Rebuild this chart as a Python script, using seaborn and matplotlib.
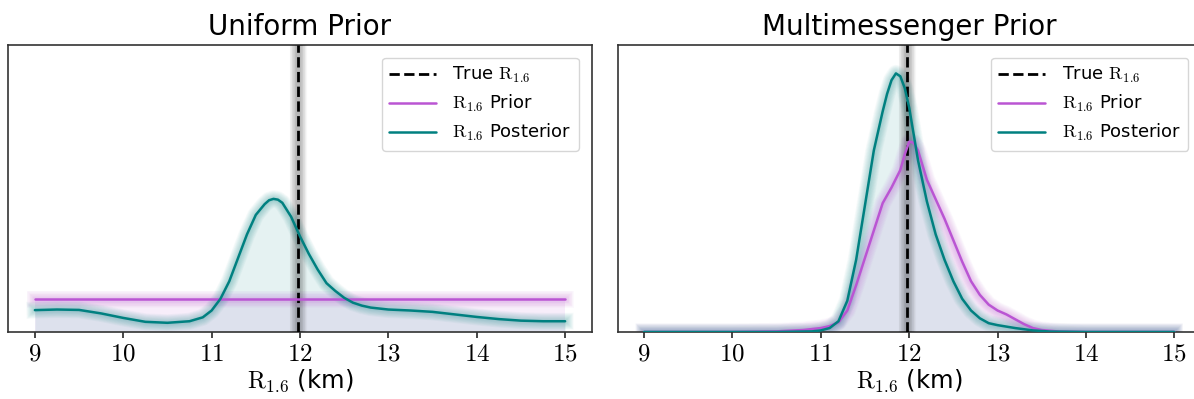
import numpy as np
import matplotlib
matplotlib.use("Agg")
import matplotlib.pyplot as plt
import seaborn as sns
from matplotlib.ticker import FuncFormatter

# ---------------- data ----------------
true_r = 11.98
x_ticks = [9, 10, 11, 12, 13, 14, 15]

# Uniform prior panel
uni_prior_x = [9.0, 15.0]
uni_prior_y = [1 / 6, 1 / 6]

uni_post_x = [9.0, 9.25, 9.5, 9.75, 10.0, 10.25, 10.5, 10.75, 10.9, 11.0,
              11.1, 11.2, 11.3, 11.4, 11.5, 11.6, 11.65, 11.7, 11.75, 11.8,
              11.9, 12.0, 12.1, 12.2, 12.3, 12.4, 12.5, 12.6, 12.7, 12.8,
              13.0, 13.25, 13.5, 13.75, 14.0, 14.25, 14.5, 14.75, 15.0]
uni_post_y = [0.112, 0.115, 0.113, 0.095, 0.072, 0.052, 0.047, 0.055, 0.075, 0.11,
              0.17, 0.26, 0.38, 0.50, 0.60, 0.655, 0.675, 0.682, 0.678, 0.662,
              0.59, 0.49, 0.40, 0.32, 0.25, 0.21, 0.175, 0.15, 0.135, 0.125,
              0.115, 0.11, 0.103, 0.09, 0.077, 0.066, 0.058, 0.055, 0.055]

# Multimessenger prior panel
mm_prior_x = [9.0, 10.0, 10.5, 10.8, 11.0, 11.1, 11.2, 11.3, 11.4, 11.5,
              11.6, 11.7, 11.8, 11.9, 11.95, 12.0, 12.05, 12.1, 12.2, 12.3,
              12.4, 12.5, 12.6, 12.7, 12.8, 12.9, 13.0, 13.1, 13.2, 13.3,
              13.4, 13.5, 13.7, 14.0, 15.0]
mm_prior_y = [0.0, 0.0, 0.003, 0.01, 0.02, 0.03, 0.05, 0.11, 0.24, 0.38,
              0.52, 0.66, 0.74, 0.83, 0.91, 0.975, 0.97, 0.93, 0.78, 0.68,
              0.58, 0.47, 0.36, 0.26, 0.19, 0.14, 0.11, 0.09, 0.065, 0.04,
              0.02, 0.01, 0.002, 0.0, 0.0]

mm_post_x = [9.0, 10.5, 10.9, 11.0, 11.1, 11.2, 11.3, 11.4, 11.5, 11.6,
             11.7, 11.75, 11.8, 11.85, 11.9, 11.95, 12.0, 12.1, 12.2, 12.3,
             12.4, 12.5, 12.6, 12.7, 12.8, 12.9, 13.0, 13.2, 13.4, 13.6,
             14.0, 15.0]
mm_post_y = [0.0, 0.0, 0.003, 0.008, 0.02, 0.055, 0.16, 0.37, 0.65, 0.93,
             1.13, 1.22, 1.29, 1.325, 1.31, 1.25, 1.15, 0.88, 0.67, 0.50,
             0.37, 0.26, 0.17, 0.11, 0.07, 0.045, 0.035, 0.02, 0.008, 0.002,
             0.0, 0.0]

titles = ["Uniform Prior", "Multimessenger Prior"]
labels = [r"True $\mathrm{R}_{1.6}$", r"$\mathrm{R}_{1.6}$ Prior", r"$\mathrm{R}_{1.6}$ Posterior"]
xlabel = r"$\mathrm{R}_{1.6}$ (km)"

# ---------------- style ----------------
sns.set_style("white")
plt.rcParams["font.family"] = ["DejaVu Sans"]
plt.rcParams["mathtext.fontset"] = "cm"
plt.rcParams["text.color"] = "black"
plt.rcParams["axes.labelcolor"] = "black"
plt.rcParams["xtick.color"] = "black"

PRIOR_C = "mediumorchid"
POST_C = "#008080"
LW = 1.8
N_GLOW = 10
GLOW_A = 0.3 / N_GLOW

fig = plt.figure(figsize=(11.94, 3.99), dpi=100)
axes = [fig.add_axes([0.007, 0.168, 0.4885, 0.719]),
        fig.add_axes([0.5172, 0.168, 0.4885, 0.719])]

panels = [
    (uni_prior_x, uni_prior_y, uni_post_x, uni_post_y),
    (mm_prior_x, mm_prior_y, mm_post_x, mm_post_y),
]


def glow(ax, x, y, color):
    for n in range(1, N_GLOW + 1):
        ax.plot(x, y, color=color, lw=LW + 1.05 * n, alpha=GLOW_A,
                solid_capstyle="projecting", solid_joinstyle="round", zorder=2)


for ax, title, (px, py, qx, qy) in zip(axes, titles, panels):
    # true value line with glow
    ax.axvline(true_r, color="black", ls="--", lw=2, zorder=4, label=labels[0])
    for n in range(1, N_GLOW + 1):
        ax.axvline(true_r, color="black", lw=2 + 1.05 * n, alpha=GLOW_A, zorder=3)

    # prior
    sns.lineplot(x=px, y=py, ax=ax, color=PRIOR_C, lw=LW, label=labels[1],
                 sort=False, zorder=5)
    glow(ax, px, py, PRIOR_C)
    ax.fill_between(px, py, 0, color=PRIOR_C, alpha=0.1, lw=0, zorder=1)

    # posterior
    sns.lineplot(x=qx, y=qy, ax=ax, color=POST_C, lw=LW, label=labels[2],
                 sort=False, zorder=6)
    glow(ax, qx, qy, POST_C)
    ax.fill_between(qx, qy, 0, color=POST_C, alpha=0.1, lw=0, zorder=1)

    for line in ax.get_lines():
        line.set_solid_joinstyle("round")

    ax.set_xlim(8.7, 15.3)
    ax.set_ylim(0, 1.47)
    ax.set_yticks([])
    ax.set_xticks(x_ticks)
    ax.xaxis.set_major_formatter(FuncFormatter(lambda v, p: f"${v:g}$"))
    ax.tick_params(axis="x", bottom=True, length=4, width=1.2, labelsize=18,
                   color="0.15", pad=3)
    ax.set_ylabel("")
    ax.set_xlabel(xlabel, fontsize=17.5, labelpad=1)
    ax.set_title(title, fontsize=20, pad=7)
    for s in ax.spines.values():
        s.set_color("0.2")
        s.set_linewidth(1.2)

    handles, labs = ax.get_legend_handles_labels()
    order = [labs.index(l) for l in labels]
    ax.legend([handles[i] for i in order], [labs[i] for i in order],
              loc="upper right", fontsize=13, handlelength=2.6,
              handletextpad=0.9, borderaxespad=0.7, framealpha=0.8,
              edgecolor="0.8", fancybox=True, labelspacing=0.45)

fig.savefig("out.png", dpi=100)
